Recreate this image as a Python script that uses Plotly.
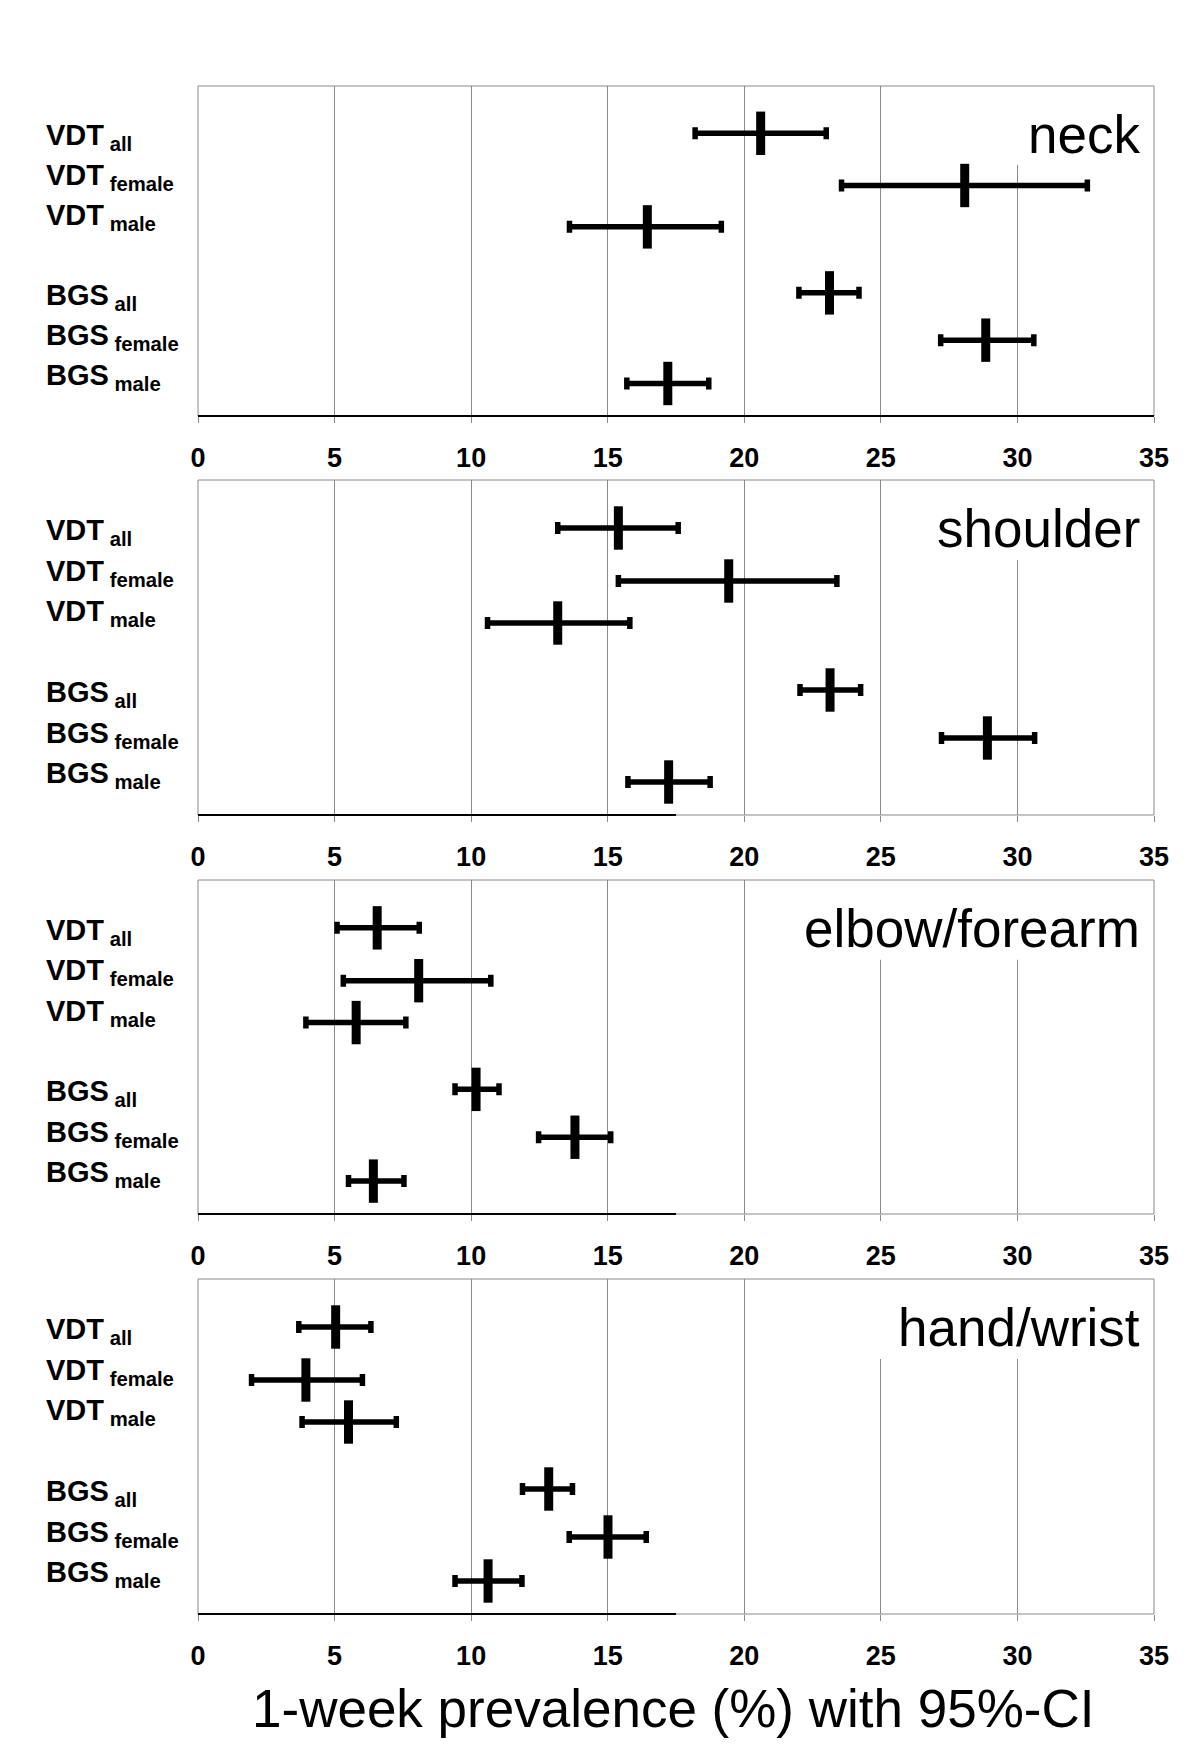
import plotly.graph_objects as go

# ---------------- data ----------------
group_main = ["VDT", "VDT", "VDT", "BGS", "BGS", "BGS"]
group_sub = ["all", "female", "male", "all", "female", "male"]
regions = ["neck", "shoulder", "elbow/forearm", "hand/wrist"]

neck_est = [20.6, 28.07, 16.45, 23.12, 28.84, 17.2]
neck_lo = [18.2, 23.56, 13.6, 22.0, 27.19, 15.7]
neck_hi = [23.0, 32.56, 19.16, 24.2, 30.6, 18.7]

shoulder_est = [15.39, 19.43, 13.17, 23.14, 28.90, 17.23]
shoulder_lo = [13.17, 15.39, 10.60, 22.04, 27.22, 15.74]
shoulder_hi = [17.58, 23.39, 15.81, 24.26, 30.63, 18.75]

elbow_est = [6.56, 8.08, 5.79, 10.18, 13.80, 6.42]
elbow_lo = [5.09, 5.32, 3.95, 9.41, 12.47, 5.51]
elbow_hi = [8.10, 10.72, 7.61, 11.02, 15.11, 7.54]

hand_est = [5.04, 3.95, 5.51, 12.84, 15.01, 10.62]
hand_lo = [3.69, 1.96, 3.81, 11.88, 13.59, 9.41]
hand_hi = [6.33, 6.02, 7.26, 13.71, 16.41, 11.86]

x_title = "1-week prevalence (%) with 95%-CI"

# ---------------- layout constants ----------------
W, H = 1200, 1750
ML, MR = 190, 54
panel_top = [78, 472, 872, 1271]
panel_bot = [408, 807, 1206, 1606]
PANEL_H = 335.0
row_pos = [48, 101, 143, 210, 258, 302]          # data rows (px from panel top)
label_pos = [52, 92.5, 133, 214, 254.5, 295]     # label rows (px from panel top)
black_frac = [1.0, 0.5, 0.5, 0.5]
label_box_left = [0.849, 0.75, 0.609, 0.705]     # white box behind region label (x domain)

FONT = "Arial, 'Liberation Sans', Helvetica, sans-serif"

series = [
    (neck_est, neck_lo, neck_hi),
    (shoulder_est, shoulder_lo, shoulder_hi),
    (elbow_est, elbow_lo, elbow_hi),
    (hand_est, hand_lo, hand_hi),
]

fig = go.Figure()
annotations = []
shapes = []
layout_axes = {}

for i, (est, lo, hi) in enumerate(series):
    n = i + 1
    xa = "x" if n == 1 else f"x{n}"
    ya = "y" if n == 1 else f"y{n}"
    fig.add_trace(go.Scatter(
        x=est, y=row_pos, xaxis=xa, yaxis=ya, mode="markers",
        marker=dict(symbol="line-ns", size=31, color="black",
                    line=dict(width=9, color="black")),
        error_x=dict(type="data", symmetric=False,
                     array=[h - e for h, e in zip(hi, est)],
                     arrayminus=[e - l for e, l in zip(est, lo)],
                     thickness=5.5, width=6, color="black"),
        showlegend=False, hoverinfo="x",
    ))
    dom = [1 - panel_bot[i] / H, 1 - panel_top[i] / H]
    xkey = "xaxis" if n == 1 else f"xaxis{n}"
    ykey = "yaxis" if n == 1 else f"yaxis{n}"
    layout_axes[xkey] = dict(
        domain=[0, 1], anchor=ya, range=[0, 35], dtick=5, tick0=0,
        showgrid=True, gridcolor="#8a8a8a", gridwidth=1,
        zeroline=False, showline=False,
        ticks="outside", ticklen=6, tickcolor="#8a8a8a", tickwidth=1,
        ticklabelstandoff=12,
        tickfont=dict(family=FONT, size=27, color="black", weight="bold"),
    )
    layout_axes[ykey] = dict(
        domain=dom, anchor=xa, range=[PANEL_H, 0],
        showgrid=False, zeroline=False, showticklabels=False, ticks="",
        showline=False,
    )
    xd = f"{xa} domain"
    yd = f"{ya} domain"
    # white box hiding gridlines behind the region label
    shapes.append(dict(type="rect", xref=xd, yref=yd, x0=label_box_left[i], x1=1,
                       y0=1 - 80 / PANEL_H, y1=1, fillcolor="white",
                       line=dict(width=0), layer="above"))
    # gray frame
    shapes.append(dict(type="rect", xref=xd, yref=yd, x0=0, x1=1, y0=0, y1=1,
                       line=dict(color="#8a8a8a", width=1), layer="above"))
    # black bottom axis line
    shapes.append(dict(type="line", xref=xd, yref=yd, x0=0, x1=black_frac[i],
                       y0=0, y1=0, line=dict(color="black", width=2), layer="above"))
    # region label
    annotations.append(dict(
        xref=xd, yref=yd, x=1, y=1, xanchor="right", yanchor="top",
        xshift=-12, yshift=-17,
        text=regions[i], showarrow=False,
        font=dict(family=FONT, size=53, color="black"),
    ))
    # row labels
    for m, s, p in zip(group_main, group_sub, label_pos):
        annotations.append(dict(
            xref="paper", yref=ya, x=(35.5 - ML) / (W - ML - MR), y=p,
            xanchor="left", yanchor="middle", showarrow=False,
            text=f"<b>{m}<sub> {s}</sub></b>",
            font=dict(family=FONT, size=29, color="black"),
        ))

annotations.append(dict(
    xref="paper", yref="paper", x=0.497, y=1 - 1700 / H,
    xanchor="center", yanchor="middle", showarrow=False, text=x_title,
    font=dict(family=FONT, size=53, color="black"),
))

fig.update_layout(
    width=W, height=H,
    margin=dict(l=ML, r=MR, t=0, b=0),
    paper_bgcolor="white", plot_bgcolor="white",
    annotations=annotations, shapes=shapes,
    font=dict(family=FONT, color="black"),
    **layout_axes,
)

fig.write_html("out.html")
